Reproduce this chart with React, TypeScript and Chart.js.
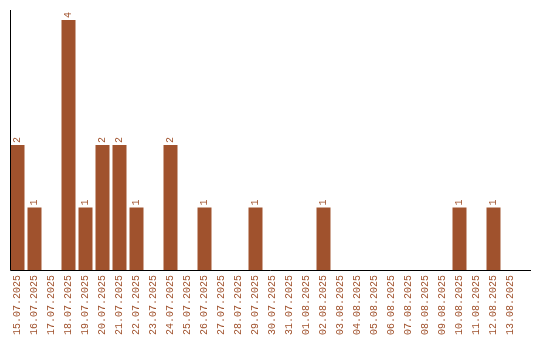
import React, { useEffect, useRef } from "react";
import { Chart, registerables } from "chart.js";

Chart.register(...registerables);

const dates: string[] = [
  "15.07.2025", "16.07.2025", "17.07.2025", "18.07.2025", "19.07.2025",
  "20.07.2025", "21.07.2025", "22.07.2025", "23.07.2025", "24.07.2025",
  "25.07.2025", "26.07.2025", "27.07.2025", "28.07.2025", "29.07.2025",
  "30.07.2025", "31.07.2025", "01.08.2025", "02.08.2025", "03.08.2025",
  "04.08.2025", "05.08.2025", "06.08.2025", "07.08.2025", "08.08.2025",
  "09.08.2025", "10.08.2025", "11.08.2025", "12.08.2025", "13.08.2025",
];

const counts: number[] = [
  2, 1, 0, 4, 1, 2, 2, 1, 0, 2,
  0, 1, 0, 0, 1, 0, 0, 0, 1, 0,
  0, 0, 0, 0, 0, 0, 1, 0, 1, 0,
];

const BAR_COLOR = "#A0522D";
const FONT_FAMILY = "'Liberation Mono', monospace";

// Black axis lines: vertical at the left edge, horizontal along the baseline.
const axisLines = {
  id: "axisLines",
  afterDatasetsDraw(chart: any) {
    const { ctx, chartArea, scales } = chart;
    const y0 = Math.round(scales.y.getPixelForValue(0)) + 0.5;
    const xLeft = 10.5;
    ctx.save();
    ctx.strokeStyle = "#000";
    ctx.lineWidth = 1;
    ctx.beginPath();
    ctx.moveTo(xLeft, chartArea.top);
    ctx.lineTo(xLeft, y0);
    ctx.moveTo(xLeft, y0);
    ctx.lineTo(chartArea.right + 12, y0);
    ctx.stroke();
    ctx.restore();
  },
};

// Rotated value labels above each non-zero bar.
const valueLabels = {
  id: "valueLabels",
  afterDatasetsDraw(chart: any) {
    const { ctx } = chart;
    const meta = chart.getDatasetMeta(0);
    const data = chart.data.datasets[0].data as number[];
    ctx.save();
    ctx.fillStyle = BAR_COLOR;
    ctx.font = `10px ${FONT_FAMILY}`;
    ctx.textAlign = "left";
    ctx.textBaseline = "middle";
    meta.data.forEach((bar: any, i: number) => {
      const v = data[i];
      if (!v) return;
      ctx.save();
      ctx.translate(bar.x, bar.y - 2);
      ctx.rotate(-Math.PI / 2);
      ctx.fillText(String(v), 0, 0);
      ctx.restore();
    });
    ctx.restore();
  },
};

export default function App() {
  const canvasRef = useRef<HTMLCanvasElement | null>(null);

  useEffect(() => {
    document.body.style.margin = "0";
    const canvas = canvasRef.current;
    if (!canvas) return;
    const chart = new Chart(canvas, {
      type: "bar",
      data: {
        labels: dates,
        datasets: [
          {
            data: counts,
            backgroundColor: BAR_COLOR,
            borderWidth: 0,
            barPercentage: 14 / 17,
            categoryPercentage: 1,
          },
        ],
      },
      options: {
        animation: false,
        responsive: false,
        maintainAspectRatio: false,
        layout: { padding: { top: 10, left: 9, right: 21, bottom: 0 } },
        plugins: {
          legend: { display: false },
          tooltip: { enabled: false },
        },
        scales: {
          x: {
            grid: { display: false, drawTicks: false },
            border: { display: false },
            ticks: {
              color: BAR_COLOR,
              font: { family: FONT_FAMILY, size: 10 },
              minRotation: 90,
              maxRotation: 90,
              autoSkip: false,
              padding: 5,
            },
            afterFit(scale: any) {
              scale.height = 70;
            },
          },
          y: {
            display: false,
            min: 0,
            max: 4.16,
          },
        },
      },
      plugins: [axisLines, valueLabels],
    });
    return () => chart.destroy();
  }, []);

  return (
    <div style={{ width: 540, height: 340 }}>
      <canvas ref={canvasRef} width={540} height={340} />
    </div>
  );
}
